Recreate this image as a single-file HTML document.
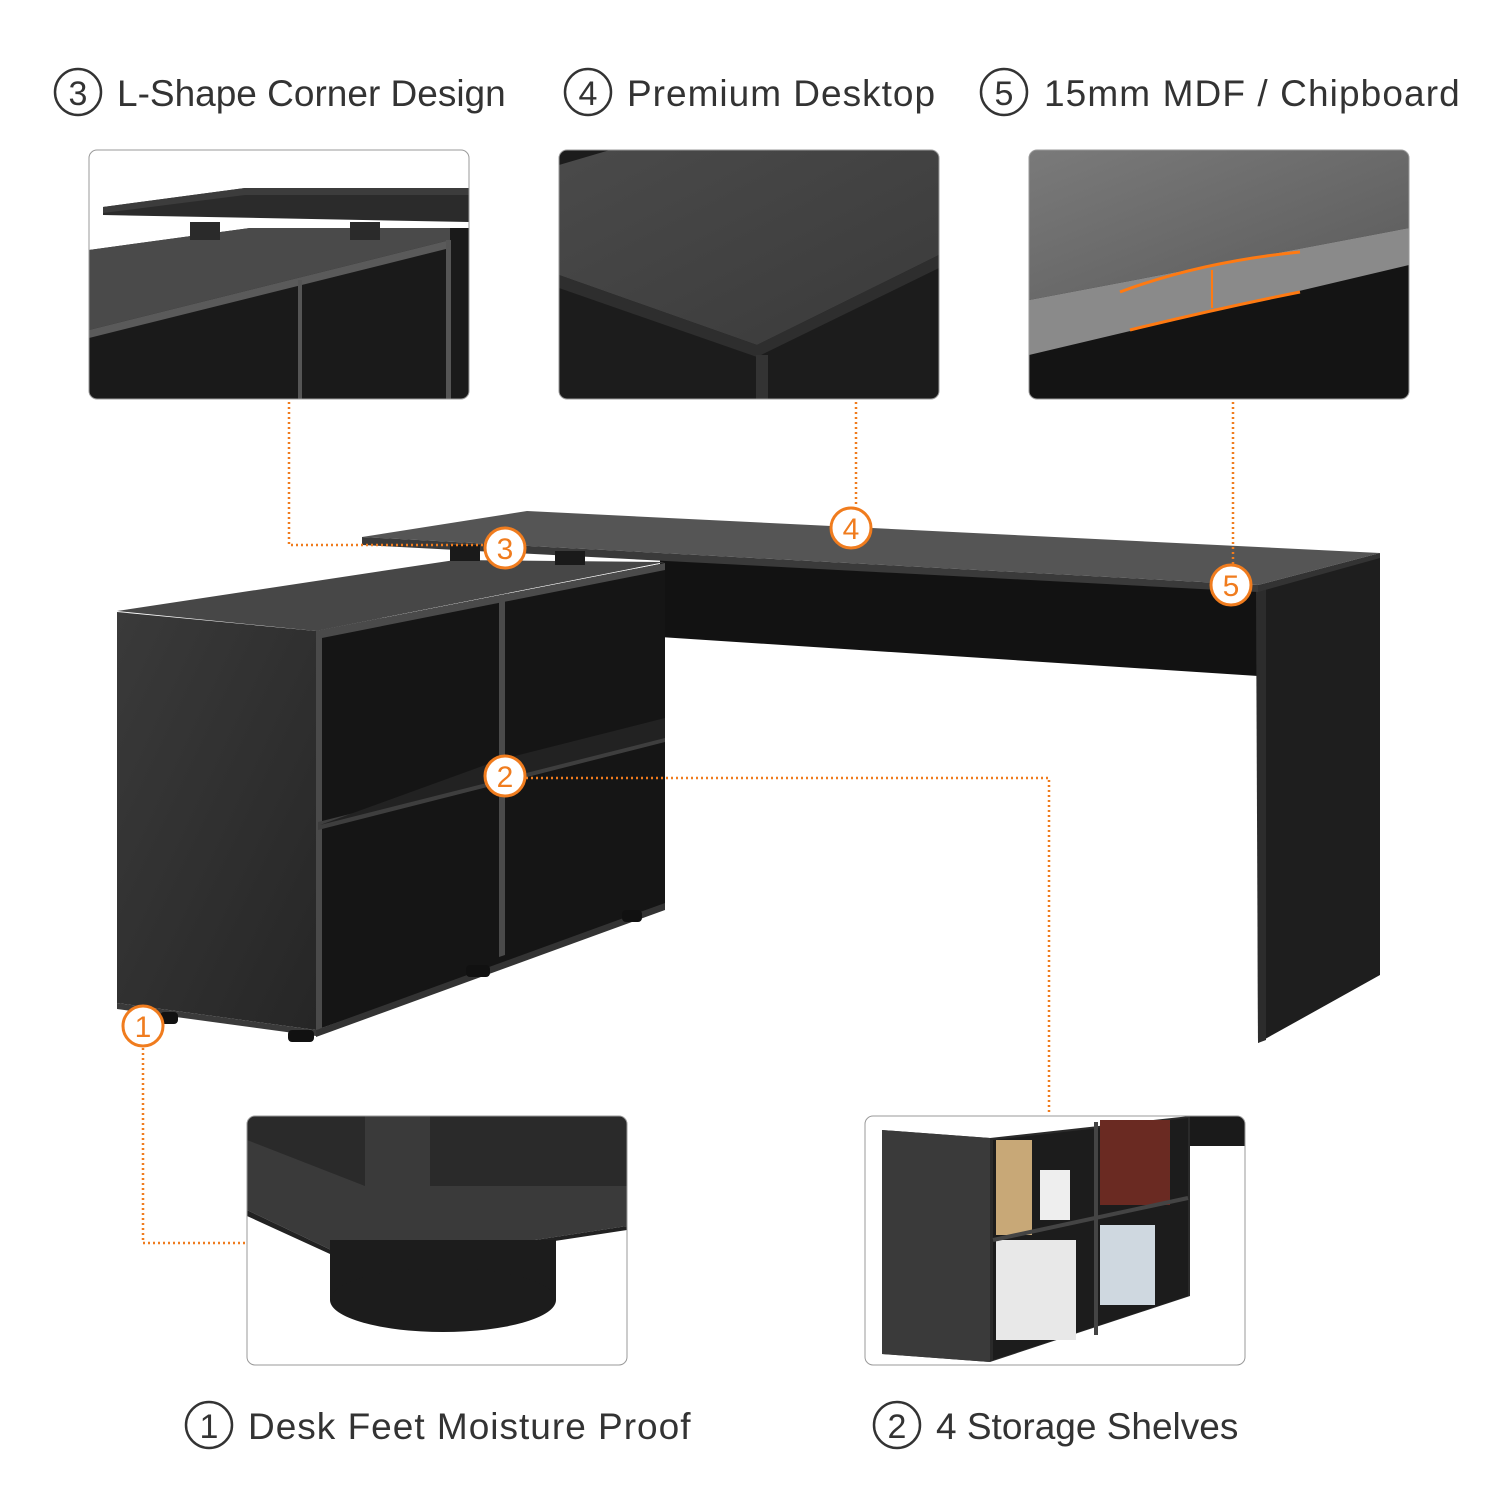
<!DOCTYPE html>
<html><head><meta charset="utf-8"><style>
html,body{margin:0;padding:0;background:#fff;}
svg{display:block;}
text{font-family:"Liberation Sans",sans-serif;}
</style></head><body>
<svg width="1500" height="1500" viewBox="0 0 1500 1500" xmlns="http://www.w3.org/2000/svg">
<defs>
<linearGradient id="side" x1="0" y1="0" x2="1" y2="1"><stop offset="0" stop-color="#3a3a3a"/><stop offset="1" stop-color="#262626"/></linearGradient>
<linearGradient id="top2" x1="0" y1="0" x2="1" y2="1"><stop offset="0" stop-color="#4a4a4a"/><stop offset="1" stop-color="#3a3a3a"/></linearGradient>
<linearGradient id="top3" x1="0" y1="0" x2="1" y2="1"><stop offset="0" stop-color="#7a7a7a"/><stop offset="1" stop-color="#5a5a5a"/></linearGradient>
<clipPath id="c1"><rect x="89" y="150" width="380" height="249" rx="8"/></clipPath>
<clipPath id="c2"><rect x="559" y="150" width="380" height="249" rx="8"/></clipPath>
<clipPath id="c3"><rect x="1029" y="150" width="380" height="249" rx="8"/></clipPath>
<clipPath id="c4"><rect x="247" y="1116" width="380" height="249" rx="8"/></clipPath>
<clipPath id="c5"><rect x="865" y="1116" width="380" height="249" rx="8"/></clipPath>
</defs>

<!-- Titles -->
<g fill="#333" font-size="37">
<circle cx="78" cy="92" r="23" fill="none" stroke="#333" stroke-width="2.5"/><text x="78" y="105" font-size="34" text-anchor="middle">3</text>
<text x="117" y="106">L-Shape Corner Design</text>
<circle cx="588" cy="92" r="23" fill="none" stroke="#333" stroke-width="2.5"/><text x="588" y="105" font-size="34" text-anchor="middle">4</text>
<text x="627" y="106" letter-spacing="1">Premium Desktop</text>
<circle cx="1004" cy="92" r="23" fill="none" stroke="#333" stroke-width="2.5"/><text x="1004" y="105" font-size="34" text-anchor="middle">5</text>
<text x="1044" y="106" letter-spacing="1.1">15mm MDF / Chipboard</text>
<circle cx="209" cy="1425" r="23" fill="none" stroke="#333" stroke-width="2.5"/><text x="209" y="1438" font-size="34" text-anchor="middle">1</text>
<text x="248" y="1439" letter-spacing="1">Desk Feet Moisture Proof</text>
<circle cx="897" cy="1425" r="23" fill="none" stroke="#333" stroke-width="2.5"/><text x="897" y="1438" font-size="34" text-anchor="middle">2</text>
<text x="936" y="1439">4 Storage Shelves</text>
</g>

<!-- Panel 1 -->
<g clip-path="url(#c1)">
<rect x="89" y="150" width="380" height="249" fill="#fff"/>
<polygon points="89,250 250,228 469,228 469,399 89,399" fill="#1a1a1a"/>
<polygon points="89,250 250,228 450,228 450,240 89,330" fill="#4a4a4a"/>
<polygon points="89,330 450,240 450,248 89,338" fill="#5a5a5a"/>
<rect x="298" y="280" width="4" height="119" fill="#555"/>
<rect x="446" y="240" width="5" height="159" fill="#555"/>
<rect x="190" y="222" width="30" height="18" fill="#2a2a2a"/>
<rect x="350" y="222" width="30" height="18" fill="#2a2a2a"/>
<polygon points="103,207 245,188 469,188 469,222 103,215" fill="#2b2b2b"/>
<polygon points="103,207 245,188 469,188 469,195 245,195 103,213" fill="#3c3c3c"/>
</g>
<rect x="89" y="150" width="380" height="249" rx="8" fill="none" stroke="#999" stroke-width="1"/>

<!-- Panel 2 -->
<g clip-path="url(#c2)">
<rect x="559" y="150" width="380" height="249" fill="#1c1c1c"/>
<polygon points="559,165 610,150 939,150 939,255 757,345 559,275" fill="url(#top2)"/>
<polygon points="559,275 757,345 939,255 939,268 757,357 559,288" fill="#2e2e2e"/>
<rect x="756" y="355" width="12" height="44" fill="#333"/>
</g>
<rect x="559" y="150" width="380" height="249" rx="8" fill="none" stroke="#999" stroke-width="1"/>

<!-- Panel 3 -->
<g clip-path="url(#c3)">
<rect x="1029" y="150" width="380" height="249" fill="#141414"/>
<polygon points="1029,150 1409,150 1409,228 1029,300" fill="url(#top3)"/>
<polygon points="1029,300 1409,228 1409,265 1029,355" fill="#8a8a8a"/>
<path d="M1120,292 Q1200,262 1300,252" stroke="#ff7a12" stroke-width="3" fill="none"/>
<path d="M1130,330 Q1220,308 1300,292" stroke="#ff7a12" stroke-width="3" fill="none"/>
<line x1="1212" y1="270" x2="1212" y2="308" stroke="#ff7a12" stroke-width="2"/>
</g>
<rect x="1029" y="150" width="380" height="249" rx="8" fill="none" stroke="#999" stroke-width="1"/>

<!-- Panel 4 (feet) -->
<g clip-path="url(#c4)">
<rect x="247" y="1116" width="380" height="249" fill="#fff"/>
<rect x="247" y="1116" width="380" height="70" fill="#2a2a2a"/>
<rect x="365" y="1116" width="65" height="70" fill="#3a3a3a"/>
<polygon points="247,1140 365,1186 627,1186 627,1226 365,1266 247,1210" fill="#3a3a3a"/>
<polygon points="247,1210 365,1266 627,1226 627,1230 365,1270 247,1216" fill="#222"/>
<rect x="330" y="1240" width="226" height="60" fill="#1c1c1c"/>
<ellipse cx="443" cy="1300" rx="113" ry="32" fill="#1c1c1c"/>
</g>
<rect x="247" y="1116" width="380" height="249" rx="8" fill="none" stroke="#999" stroke-width="1"/>

<!-- Panel 5 (shelves) -->
<g clip-path="url(#c5)">
<rect x="865" y="1116" width="380" height="249" fill="#fff"/>
<rect x="1185" y="1116" width="60" height="30" fill="#1a1a1a"/>
<polygon points="882,1130 990,1138 1190,1116 1190,1296 990,1362 882,1354" fill="#2a2a2a"/>
<polygon points="882,1130 990,1138 990,1362 882,1354" fill="#3a3a3a"/>
<polygon points="993,1140 1188,1118 1188,1296 993,1360" fill="#1c1c1c"/>
<rect x="996" y="1140" width="36" height="95" fill="#c8a877"/>
<rect x="1040" y="1170" width="30" height="50" fill="#eee"/>
<rect x="1100" y="1120" width="70" height="85" fill="#6a2a22"/>
<rect x="996" y="1240" width="80" height="100" fill="#e8e8e8"/>
<rect x="1100" y="1225" width="55" height="80" fill="#cfd8e0"/>
<line x1="1096" y1="1122" x2="1096" y2="1335" stroke="#444" stroke-width="4"/>
<line x1="993" y1="1240" x2="1188" y2="1198" stroke="#444" stroke-width="4"/>
</g>
<rect x="865" y="1116" width="380" height="249" rx="8" fill="none" stroke="#999" stroke-width="1"/>

<!-- Desk -->
<polygon points="660,560 1258,588 1258,676 660,637" fill="#121212"/>
<polygon points="1257,590 1380,556 1380,975 1258,1043" fill="#1e1e1e"/>
<polygon points="1256,590 1266,588 1266,1040 1258,1043" fill="#2c2c2c"/>
<polygon points="117,611 455,560 665,562 316,631" fill="#474747"/>
<polygon points="117,612 316,631 316,1030 117,1003" fill="url(#side)"/>
<polygon points="316,631 665,563 665,907 316,1030" fill="#151515"/>
<polygon points="316,631 665,563 665,570 322,638 322,1028 316,1030" fill="#4a4a4a"/>
<polygon points="499,596 505,595 505,955 499,957" fill="#4a4a4a"/>
<polygon points="318,822 665,735 665,742 318,830" fill="#3e3e3e"/>
<polygon points="320,825 499,760 665,718 665,738 320,825" fill="#222"/>
<polygon points="316,1030 665,903 665,910 316,1037" fill="#333"/>
<polygon points="117,1003 316,1030 316,1036 117,1009" fill="#3a3a3a"/>
<rect x="288" y="1030" width="26" height="12" rx="4" fill="#111"/>
<rect x="466" y="965" width="24" height="12" rx="4" fill="#111"/>
<rect x="622" y="910" width="20" height="12" rx="4" fill="#111"/>
<rect x="160" y="1012" width="18" height="12" rx="4" fill="#111"/>
<polygon points="362,537 527,511 1380,553 1258,585" fill="#555"/>
<polygon points="362,537 1258,585 1258,592 362,545" fill="#3a3a3a"/>
<polygon points="1258,585 1380,553 1380,558 1258,592" fill="#333"/>
<rect x="450" y="545" width="30" height="16" fill="#1a1a1a"/>
<rect x="555" y="551" width="30" height="14" fill="#1a1a1a"/>

<!-- Connectors -->
<g stroke="#f07c1e" stroke-width="2.5" stroke-dasharray="2,3" fill="none">
<polyline points="289,402 289,545 484,545"/>
<polyline points="856,402 856,507"/>
<polyline points="1233,402 1233,564"/>
<polyline points="526,778 1049,778 1049,1114"/>
<polyline points="143,1048 143,1243 245,1243"/>
</g>
<g fill="#fff" stroke="#f07c1e" stroke-width="3">
<circle cx="505" cy="548" r="20"/><circle cx="851" cy="528" r="20"/><circle cx="1231" cy="585" r="20"/>
<circle cx="505" cy="776" r="20"/><circle cx="143" cy="1026" r="20"/>
</g>
<g fill="#f07c1e" font-size="30" text-anchor="middle">
<text x="505" y="559">3</text><text x="851" y="539">4</text><text x="1231" y="596">5</text>
<text x="505" y="787">2</text><text x="143" y="1037">1</text>
</g>
</svg>
</body></html>
